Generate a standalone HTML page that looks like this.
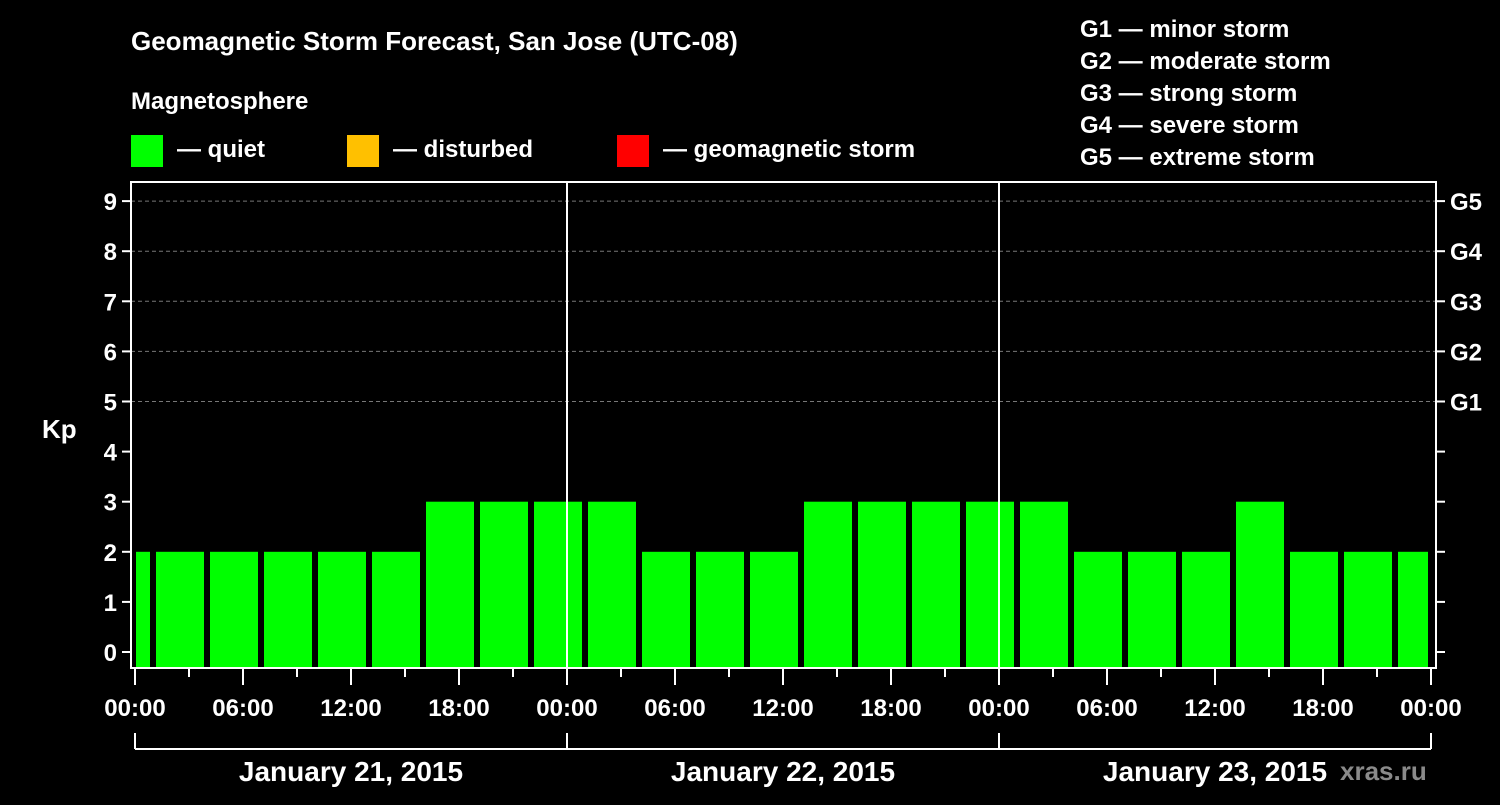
<!DOCTYPE html>
<html><head><meta charset="utf-8"><style>
body{margin:0;background:#000;width:1500px;height:800px;overflow:hidden}
svg text{font-family:"Liberation Sans",sans-serif;font-weight:bold;fill:#fff}
</style></head><body>
<svg id="c" width="1500" height="800">
<text x="131" y="50" font-size="26">Geomagnetic Storm Forecast, San Jose (UTC-08)</text>
<text x="131" y="109" font-size="24">Magnetosphere</text>
<g><rect x="131" y="135" width="32" height="32" fill="#00ff00"/><text x="177" y="157" font-size="24">— quiet</text></g>
<g><rect x="347" y="135" width="32" height="32" fill="#ffc000"/><text x="393" y="157" font-size="24">— disturbed</text></g>
<g><rect x="617" y="135" width="32" height="32" fill="#ff0000"/><text x="663" y="157" font-size="24">— geomagnetic storm</text></g>
<g font-size="24">
<text x="1080" y="37">G1 — minor storm</text><text x="1080" y="69">G2 — moderate storm</text><text x="1080" y="101">G3 — strong storm</text><text x="1080" y="133">G4 — severe storm</text><text x="1080" y="165">G5 — extreme storm</text></g>
<text x="42" y="438" font-size="26">Kp</text>
<text x="1340" y="780" font-size="26" fill="#888" style="fill:#8a8a8a">xras.ru</text>
<g id="grid"></g><g id="bars"></g><g id="axes"></g>
</svg>
<script>
const kpValues=[2,2,2,2,2,2,3,3,3,3,2,2,2,3,3,3,3,3,2,2,2,3,2,2,2];
const yTicks=[0,1,2,3,4,5,6,7,8,9];
const gLabels=["G1","G2","G3","G4","G5"];
const xTickLabels=["00:00","06:00","12:00","18:00","00:00","06:00","12:00","18:00","00:00","06:00","12:00","18:00","00:00"];
const dateLabels=["January 21, 2015","January 22, 2015","January 23, 2015"];
const NS="http://www.w3.org/2000/svg";
const L=131,R=1436,T=182,B=668;
const x=h=>135+18*h, y=v=>652-50.1*v;
function mk(tag,attrs,parent,txt){const e=document.createElementNS(NS,tag);for(const k in attrs)e.setAttribute(k,attrs[k]);if(txt!==undefined)e.textContent=txt;document.getElementById(parent).appendChild(e);return e;}
yTicks.forEach(v=>{if(v>=5){const g=mk('line',{x1:L,x2:R,y1:y(v),y2:y(v),stroke:'#777','stroke-dasharray':'4,3'},'grid');

}});
kpValues.forEach((v,i)=>{let h0=1+3*(i-1),h1=h0+3;let x0=x(Math.max(0,h0))+(h0<0?1:3),x1=x(Math.min(72,h1))-3;
const c=v>=5?'#ff0000':(v>=4?'#ffc000':'#00ff00');
const r=mk('rect',{x:x0,y:y(v),width:x1-x0,height:B-1-y(v),fill:c},'bars');

});
[1,2].forEach(d=>{const l=mk('line',{x1:x(24*d),x2:x(24*d),y1:T,y2:B,stroke:'#fff','stroke-width':2},'axes');

});
const box=mk('rect',{x:L,y:T,width:R-L,height:B-T,fill:'none',stroke:'#fff','stroke-width':2},'axes');


yTicks.forEach(v=>{mk('line',{x1:L-9,x2:L,y1:y(v),y2:y(v),stroke:'#fff','stroke-width':2},'axes');mk('line',{x1:R,x2:R+9,y1:y(v),y2:y(v),stroke:'#fff','stroke-width':2},'axes');
const t=mk('text',{x:L-14,y:y(v)+9,'font-size':24,'text-anchor':'end'},'axes',String(v));


if(v>=5){const g=mk('text',{x:1450,y:y(v)+9,'font-size':24},'axes',gLabels[v-5]);

}});
for(let h=0;h<=72;h+=3){const major=h%6===0;mk('line',{x1:x(h),x2:x(h),y1:B,y2:B+(major?17:9),stroke:'#fff','stroke-width':2},'axes');}
xTickLabels.forEach((s,i)=>{const t=mk('text',{x:x(6*i*1)+0,y:716,'font-size':24,'text-anchor':'middle'},'axes',s);
t.setAttribute('x',x(6*i));

});
mk('line',{x1:x(0),x2:x(72),y1:749,y2:749,stroke:'#fff','stroke-width':2},'axes');
[0,24,48,72].forEach(h=>mk('line',{x1:x(h),x2:x(h),y1:733,y2:749,stroke:'#fff','stroke-width':2},'axes'));
dateLabels.forEach((s,i)=>{const t=mk('text',{x:x(24*i+12),y:781,'font-size':28,'text-anchor':'middle'},'axes',s);

});
</script>
</body></html>
